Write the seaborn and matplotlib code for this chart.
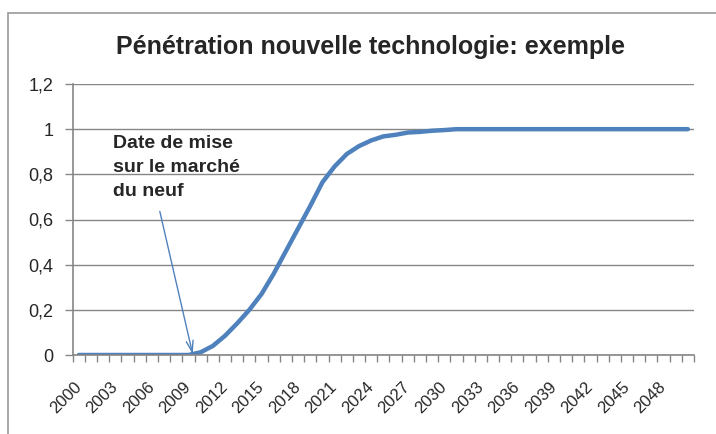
import numpy as np
import pandas as pd
import matplotlib
matplotlib.use('Agg')
import matplotlib.pyplot as plt
import matplotlib.transforms as mtrans
import seaborn as sns
from matplotlib.patches import Rectangle

# data
years = list(range(2000, 2051))
penetration = [0, 0, 0, 0, 0, 0, 0, 0, 0, 0,
               0.012, 0.04, 0.085, 0.14, 0.2, 0.27, 0.36, 0.46, 0.56, 0.66,
               0.765, 0.835, 0.89, 0.925, 0.95, 0.968, 0.975, 0.985, 0.988, 0.993,
               0.996, 1.0, 1.0, 1.0, 1.0, 1.0, 1.0, 1.0, 1.0, 1.0,
               1.0, 1.0, 1.0, 1.0, 1.0, 1.0, 1.0, 1.0, 1.0, 1.0, 1.0]
y_ticks = [0, 0.2, 0.4, 0.6, 0.8, 1.0, 1.2]
y_labels = ['0', '0,2', '0,4', '0,6', '0,8', '1', '1,2']
label_years = years[::3]

df = pd.DataFrame({'idx': range(len(years)), 'year': years, 'val': penetration})

sns.set_style('white')
plt.rcParams['font.family'] = ['Liberation Sans', 'DejaVu Sans']

fig = plt.figure(figsize=(7.16, 4.34), dpi=100)
ax = fig.add_axes([72.7 / 716, 1 - 355 / 434, (694 - 72.7) / 716, (355 - 84) / 434])

# chart frame (cut off at right and bottom like the screenshot)
fig.patches.append(Rectangle((8 / 716, -0.1), 1.2, 1 - 13 / 434 + 0.1,
                             transform=fig.transFigure, fill=False,
                             edgecolor='#9a9a9a', lw=1.2))

sns.lineplot(data=df, x='idx', y='val', ax=ax, color='#4F81BD', lw=3.2)

ax.set_xlim(-0.5, len(years) - 0.5)
ax.set_ylim(0, 1.2)
ax.set_yticks(y_ticks)
ax.set_yticklabels(y_labels, fontsize=13)
ax.yaxis.grid(True, color='#868686', lw=1)
ax.set_axisbelow(True)

ax.set_xticks([years.index(y) for y in label_years])
ax.set_xticklabels([str(y) for y in label_years], rotation=45, ha='right', va='center',
                   rotation_mode='anchor', fontsize=12)
shift = mtrans.ScaledTranslation(5 / 72, 0, fig.dpi_scale_trans)
for lab in ax.get_xticklabels():
    lab.set_transform(lab.get_transform() + shift)
ax.set_xticks(np.arange(-0.5, len(years)), minor=True)
ax.tick_params(axis='x', which='major', length=0, pad=21)
ax.tick_params(axis='x', which='minor', length=5, color='#868686', width=1, direction='out', bottom=True)
ax.tick_params(axis='y', length=6, color='#868686', width=1, direction='out', left=True, pad=8)

for s in ['top', 'right']:
    ax.spines[s].set_visible(False)
for s in ['left', 'bottom']:
    ax.spines[s].set_color('#868686')
    ax.spines[s].set_linewidth(1.2)
ax.set_xlabel('')
ax.set_ylabel('')

ax.text(2.8, 0.975, 'Date de mise\nsur le marché\ndu neuf', fontsize=14,
        fontweight='bold', va='top', ha='left', linespacing=1.55)
ax.annotate('', xy=(9.35, 0.004), xytext=(6.65, 0.636),
            arrowprops=dict(arrowstyle='->,head_length=0.8,head_width=0.25',
                            color='#4F81BD', lw=1, shrinkA=0, shrinkB=0))

fig.text(370 / 716, 1 - 47 / 434, 'Pénétration nouvelle technologie: exemple',
         ha='center', va='center', fontsize=18, fontweight='bold')

fig.savefig('out.png', dpi=100)
